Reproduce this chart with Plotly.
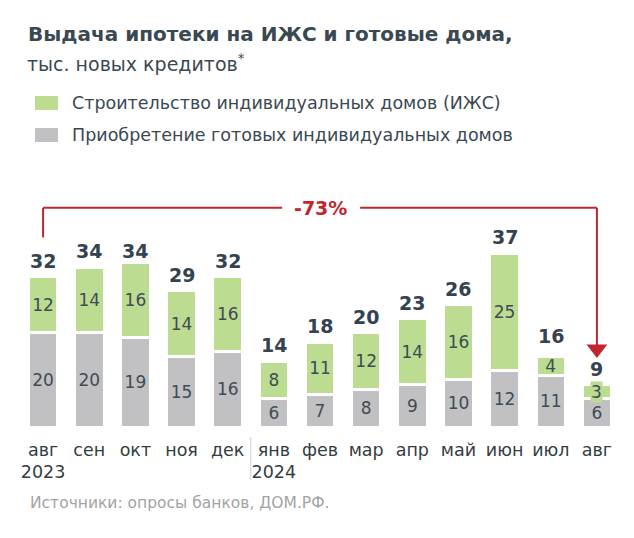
import plotly.graph_objects as go

months = ["авг<br>2023", "сен", "окт", "ноя", "дек", "янв<br>2024", "фев", "мар", "апр", "май", "июн", "июл", "авг"]
izhs = [12, 14, 16, 14, 16, 8, 11, 12, 14, 16, 25, 4, 3]
ready = [20, 20, 19, 15, 16, 6, 7, 8, 9, 10, 12, 11, 6]
totals = [32, 34, 34, 29, 32, 14, 18, 20, 23, 26, 37, 16, 9]
change_label = "-73%"
name_izhs = "Строительство индивидуальных домов (ИЖС)"
name_ready = "Приобретение готовых индивидуальных домов"

GREEN = "#bcdc92"
GRAY = "#c1c1c3"
DARK = "#34434f"
SEG = "#3f4b55"
RED = "#c0262c"
FONT = "DejaVu Sans"

x = list(range(len(months)))

fig = go.Figure()
fig.add_trace(go.Bar(
    x=x, y=ready, name=name_ready,
    marker=dict(color=GRAY, line=dict(color="white", width=3)),
    width=0.64, text=ready, texttemplate="%{y}", textposition="inside",
    insidetextanchor="middle", constraintext="none", textangle=0,
    textfont=dict(family=FONT, size=17, color=SEG),
    hoverinfo="skip", showlegend=False,
))
small = [v < 4 for v in izhs]
fig.add_trace(go.Bar(
    x=x, y=izhs, name=name_izhs,
    marker=dict(color=GREEN, line=dict(color="white", width=3)),
    width=0.64, text=izhs, texttemplate="%{y}",
    textposition=["none" if s else "inside" for s in small],
    insidetextanchor="middle", constraintext="none", textangle=0,
    textfont=dict(family=FONT, size=17, color=SEG),
    hoverinfo="skip", showlegend=False,
))

# arrow from first to last month
first, last = 0, len(months) - 1
y_br = 46.6
arrow_tip = totals[last] + 7.6
fig.add_trace(go.Scatter(
    x=[last], y=[arrow_tip], mode="markers",
    marker=dict(symbol="triangle-down", size=18, color=RED),
    hoverinfo="skip", showlegend=False,
))

annotations = []
for i, t in enumerate(totals):
    annotations.append(dict(x=i, y=t, xref="x", yref="y", text=f"<b>{t}</b>",
                            showarrow=False, yanchor="bottom", yshift=3,
                            font=dict(family=FONT, size=19, color=DARK)))
# small segment labels drawn with a green label box
for i, s in enumerate(small):
    if s:
        annotations.append(dict(x=i, y=ready[i] + izhs[i] / 2, xref="x", yref="y", text=str(izhs[i]),
                                showarrow=False, bgcolor=GREEN, borderpad=0,
                                font=dict(family=FONT, size=17, color=SEG)))

annotations.append(dict(x=6.02, y=y_br, xref="x", yref="y", text=f"<b>{change_label}</b>",
                        showarrow=False, font=dict(family=FONT, size=19, color=RED)))

def px_x(p):
    return (p - 20) / 600.0

def px_y(p):
    return (427 - p) / 237.0

annotations.append(dict(x=px_x(26), y=px_y(34), xref="paper", yref="paper", xanchor="left", yanchor="middle",
                        text="<b>Выдача ипотеки на ИЖС и готовые дома,</b>", showarrow=False,
                        font=dict(family=FONT, size=20, color="#3a4852")))
annotations.append(dict(x=px_x(25), y=px_y(63), xref="paper", yref="paper", xanchor="left", yanchor="middle",
                        text="тыс. новых кредитов<sup>*</sup>", showarrow=False,
                        font=dict(family=FONT, size=19, color="#3a4852")))
annotations.append(dict(x=px_x(28), y=px_y(503), xref="paper", yref="paper", xanchor="left", yanchor="middle",
                        text="Источники: опросы банков, ДОМ.РФ.", showarrow=False,
                        font=dict(family=FONT, size=15.5, color="#a3a3a3")))
annotations.append(dict(x=px_x(70), y=px_y(103), xref="paper", yref="paper", xanchor="left", yanchor="middle",
                        text=name_izhs, showarrow=False,
                        font=dict(family=FONT, size=17.5, color="#3a4852")))
annotations.append(dict(x=px_x(70), y=px_y(135), xref="paper", yref="paper", xanchor="left", yanchor="middle",
                        text=name_ready, showarrow=False,
                        font=dict(family=FONT, size=17.5, color="#3a4852")))

shapes = [
    dict(type="line", xref="x", yref="y", x0=first, x1=first, y0=totals[first] + 8.3, y1=y_br,
         line=dict(color=RED, width=2)),
    dict(type="line", xref="x", yref="y", x0=first, x1=5.18, y0=y_br, y1=y_br, line=dict(color=RED, width=2)),
    dict(type="line", xref="x", yref="y", x0=6.87, x1=last, y0=y_br, y1=y_br, line=dict(color=RED, width=2)),
    dict(type="line", xref="x", yref="y", x0=last, x1=last, y0=y_br, y1=arrow_tip + 0.5,
         line=dict(color=RED, width=2)),
    dict(type="line", xref="x", yref="paper", x0=4.5, x1=4.5, y0=px_y(437), y1=px_y(480),
         line=dict(color="#cfcfcf", width=1)),
    dict(type="rect", xref="paper", yref="paper", x0=px_x(35), x1=px_x(58), y0=px_y(96), y1=px_y(110),
         fillcolor=GREEN, line=dict(width=0)),
    dict(type="rect", xref="paper", yref="paper", x0=px_x(35), x1=px_x(58), y0=px_y(128), y1=px_y(142),
         fillcolor=GRAY, line=dict(width=0)),
]

# page body has an 8px default margin, so the figure is drawn 8px smaller and offset
fig.update_layout(
    width=626, height=530,
    margin=dict(l=12, r=14, t=182, b=111, autoexpand=False),
    paper_bgcolor="white", plot_bgcolor="white",
    barmode="stack",
    showlegend=False,
    xaxis=dict(range=[-0.5, 12.5], tickmode="array", tickvals=x, ticktext=months,
               showgrid=False, zeroline=False, showline=False, ticks="",
               ticklabelstandoff=10,
               tickfont=dict(family=FONT, size=17.5, color="#333d44"), automargin=False),
    yaxis=dict(range=[0, 50.4], visible=False, showgrid=False, zeroline=False),
    annotations=annotations,
    shapes=shapes,
    font=dict(family=FONT),
)

fig.write_html("out.html")
